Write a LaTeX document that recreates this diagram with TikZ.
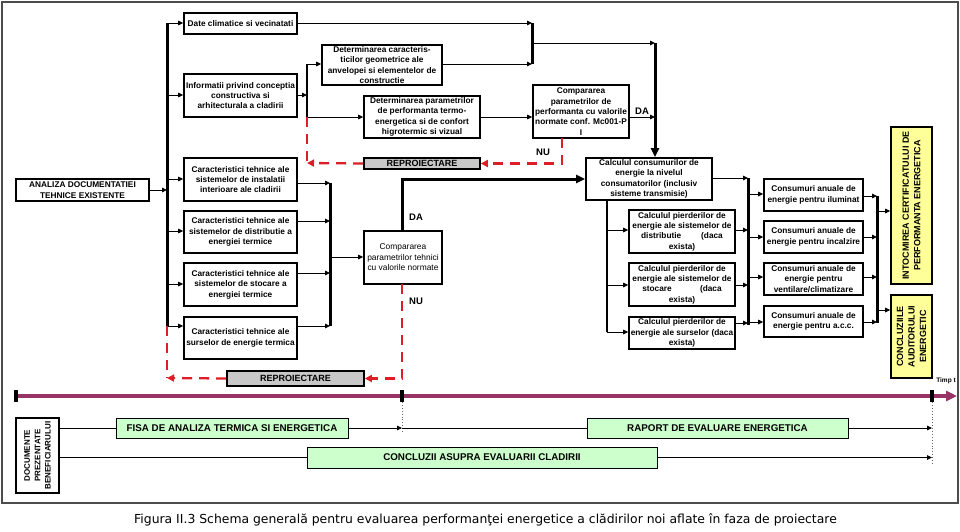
\documentclass[tikz,border=0pt]{standalone}
\usepackage{fontspec}
\setmainfont{Liberation Sans}
\newfontfamily\capfont{DejaVu Sans}
\usetikzlibrary{arrows.meta}
\definecolor{redd}{RGB}{221,30,38}
\definecolor{tlc}{RGB}{153,51,102}
\definecolor{gfill}{RGB}{204,255,204}
\definecolor{yfill}{RGB}{255,255,153}
\definecolor{rgray}{RGB}{200,200,200}
\begin{document}
\begin{tikzpicture}[x=1pt,y=-1pt,
  box/.style={draw, line width=1.6pt, align=center, inner sep=0pt, fill=white,
    font=\bfseries\fontsize{8.3}{10.4}\selectfont},
  rbox/.style={box, font=\fontsize{8.4}{10.4}\selectfont},
  repbox/.style={draw, line width=1.6pt, fill=rgray, inner sep=0pt,
    font=\bfseries\fontsize{9}{10}\selectfont},
  ybox/.style={draw, line width=1.6pt, fill=yfill, inner sep=0pt},
  gbox/.style={draw, line width=0.9pt, fill=gfill, inner sep=0pt,
    font=\bfseries\fontsize{9.8}{11}\selectfont},
  vtext/.style={rotate=90, align=center, font=\bfseries\fontsize{9}{11.4}\selectfont},
  arr/.style={line width=0.9pt, -{Triangle[length=5pt,width=4.5pt]}},
  bus/.style={line width=3pt},
  mbus/.style={line width=1.8pt},
  bigarr/.style={line width=3pt, -{Triangle[length=9pt,width=8pt]}},
  rdash/.style={draw=redd, line width=2.3pt, dash pattern=on 10pt off 7pt},
  rarr/.style={rdash, -{Triangle[length=7pt,width=7pt]}},
  lbl/.style={font=\bfseries\fontsize{9.5}{10}\selectfont, inner sep=0pt},
]
\useasboundingbox (0,0) rectangle (960,531);
\fill[white] (0,0) rectangle (960,531);
\draw[line width=1.2pt, black!70] (2,2) rectangle (958,503);

% ---- nodes ----
\node[box, minimum width=133, minimum height=22] (ana) at (82.5,190) {ANALIZA DOCUMENTATIEI\\TEHNICE EXISTENTE};
\node[box, minimum width=113, minimum height=21] (s1) at (240.5,23.5) {Date climatice si vecinatati};
\node[box, minimum width=113, minimum height=43] (s2) at (240.5,95.5) {Informatii privind conceptia\\constructiva si\\arhitecturala a cladirii};
\node[box, minimum width=113, minimum height=43] (s3) at (240.5,179.5) {Caracteristici tehnice ale\\sistemelor de instalatii\\interioare ale cladirii};
\node[box, minimum width=113, minimum height=42] (s4) at (240.5,232) {Caracteristici tehnice ale\\sistemelor de distributie a\\energiei termice};
\node[box, minimum width=113, minimum height=43] (s5) at (240.5,284.5) {Caracteristici tehnice ale\\sistemelor de stocare a\\energiei termice};
\node[box, minimum width=113, minimum height=42] (s6) at (240.5,338) {Caracteristici tehnice ale\\surselor de energie termica};

\node[box, minimum width=120, minimum height=40] (dg) at (382,65) {Determinarea caracteris-\\ticilor geometrice ale\\anvelopei si elementelor de\\constructie};
\node[box, minimum width=116, minimum height=42] (dp) at (422,117) {Determinarea parametrilor\\de performanta termo-\\energetica si de confort\\higrotermic si vizual};
\node[box, minimum width=96, minimum height=53] (cmp1) at (581,111.5) {Compararea\\parametrilor de\\performanta cu valorile\\normate conf. Mc001-P\\I};
\node[repbox, minimum width=116, minimum height=11] (rep1) at (422,163.5) {REPROIECTARE};
\node[rbox, minimum width=78, minimum height=53] (cmp2) at (403,257.5) {Compararea\\parametrilor tehnici\\cu valorile normate};
\node[repbox, minimum width=137, minimum height=15] (rep2) at (295.5,378.5) {REPROIECTARE};

\node[box, minimum width=126, minimum height=42] (calc) at (649,179) {Calculul consumurilor de\\energie la nivelul\\consumatorilor (inclusiv\\sisteme transmisie)};
\node[box, minimum width=106, minimum height=43] (p1) at (682,231.5) {Calculul pierderilor de\\energie ale sistemelor de\\distributie\hspace{2.4em}(daca\\exista)};
\node[box, minimum width=106, minimum height=43] (p2) at (682,284.5) {Calculul pierderilor de\\energie ale sistemelor de\\stocare\hspace{3.4em}(daca\\exista)};
\node[box, minimum width=106, minimum height=32] (p3) at (682,333) {Calculul pierderilor de\\energie ale surselor (daca\\exista)};

\node[box, minimum width=99, minimum height=32] (c1) at (813.5,195) {Consumuri anuale de\\energie pentru iluminat};
\node[box, minimum width=99, minimum height=32] (c2) at (813.5,237) {Consumuri anuale de\\energie pentru incalzire};
\node[box, minimum width=99, minimum height=32] (c3) at (813.5,279) {Consumuri anuale de\\energie pentru\\ventilare/climatizare};
\node[box, minimum width=99, minimum height=31] (c4) at (813.5,321.5) {Consumuri anuale de\\energie pentru a.c.c.};

\node[ybox, minimum width=41, minimum height=157] (cert) at (911.5,205.5) {};
\node[vtext] (certt) at (cert.center) {INTOCMIREA CERTIFICATULUI DE\\PERFORMANTA ENERGETICA};
\node[ybox, minimum width=41, minimum height=83] (concl) at (911.5,336.5) {};
\node[vtext] (conclt) at (concl.center) {CONCLUZIILE\\AUDITORULUI\\ENERGETIC};
\node[font=\bfseries\fontsize{6.5}{7}\selectfont, inner sep=0pt] (timp) at (946,381) {Timp t};

% ---- left bus ----
\coordinate (b1t) at (167,23);
\coordinate (b1b) at (167,326);
\coordinate (b1r) at (167,378);
\draw[arr] (ana.east) -- (ana.east -| b1t);
\draw[bus] (b1t) -- (b1b);
\foreach \n/\y in {s1/23,s2/95,s3/179,s4/231,s5/284,s6/326}
  \draw[arr] (167,\y) -- (\n.west |- 0,\y);
\draw[rdash] (b1b) -- (b1r);
\draw[rarr] (rep2.west) -- (b1r);

% ---- top branch ----
\coordinate (b2t) at (532,23);
\coordinate (b2b) at (532,64);
\draw[arr] (s1.east |- b2t) -- (b2t);
\draw[arr] (dg.east |- b2b) -- (b2b);
\draw[bus] (b2t) -- (b2b);
\coordinate (b3t) at (655,43);
\draw[arr] (532,43) -- (b3t);
\draw[bigarr] (b3t) -- (b3t |- calc.north);
\draw[arr] (cmp1.east |- 0,117) -- (655,117);
\node[lbl] (da1) at (642,111) {DA};

\coordinate (b4t) at (307,64);
\coordinate (b4b) at (307,117);
\coordinate (b4r) at (307,163);
\draw[arr] (s2.east |- 0,95) -- (307,95);
\draw[mbus] (b4t) -- (b4b);
\draw[arr] (b4t) -- (b4t -| dg.west);
\draw[arr] (b4b) -- (b4b -| dp.west);
\draw[arr] (dp.east) -- (dp.east -| cmp1.west);
\draw[rdash] (b4b) -- (b4r);
\draw[rarr] (rep1.west) -- (b4r);
\draw[rarr] (562,138) -- (562,163.5) -- (rep1.east);
\node[lbl] (nu1) at (543,152) {NU};

% ---- middle bus ----
\coordinate (b5t) at (330,183);
\coordinate (b5b) at (330,326);
\foreach \n/\y in {s3/183,s4/221,s5/273,s6/326}
  \draw[arr] (\n.east |- 0,\y) -- (330,\y);
\draw[bus] (b5t) -- (b5b);
\draw[arr] (330,257) -- (cmp2.west |- 0,257);
\draw[bigarr] (402,231) -- (402,179) -- (calc.west);
\node[lbl] (da2) at (416,217) {DA};
\draw[rarr] (402,284) -- (402,378.5) -- (rep2.east);
\node[lbl] (nu2) at (416,301) {NU};

% ---- right part ----
\coordinate (b6t) at (607,200);
\coordinate (b6b) at (607,332);
\draw[mbus] (b6t) -- (b6b);
\draw[arr] (607,230) -- (p1.west |- 0,230);
\draw[arr] (607,285) -- (p2.west |- 0,285);
\draw[arr] (b6b) -- (b6b -| p3.west);

\coordinate (b7t) at (748,178);
\coordinate (b7b) at (748,325);
\draw[arr] (calc.east |- b7t) -- (b7t);
\draw[arr] (p1.east |- 0,230) -- (748,230);
\draw[arr] (p2.east |- 0,285) -- (748,285);
\draw[arr] (p3.east |- 0,323) -- (748,323);
\draw[bus] (b7t) -- (b7b);
\foreach \n/\y in {c1/194,c2/237,c3/277,c4/322}
  \draw[arr] (748,\y) -- (\n.west |- 0,\y);

\coordinate (b8t) at (877,196);
\coordinate (b8b) at (877,323);
\foreach \n/\y in {c1/196,c2/237,c3/277,c4/322}
  \draw[arr] (\n.east |- 0,\y) -- (877,\y);
\draw[bus] (b8t) -- (b8b);
\draw[arr] (877,211) -- (cert.west |- 0,211);
\draw[arr] (877,310) -- (concl.west |- 0,310);

% ---- timeline ----
\coordinate (tl0) at (16,396);
\coordinate (tl1) at (957,396);
\draw[line width=3.8pt, tlc, -{Triangle[length=11pt,width=10pt]}] (tl0) -- (tl1);
\foreach \x in {16,402,932}
  \fill[black] (\x-1.8,390) rectangle (\x+1.8,402);
\draw[black!60, line width=0.9pt, dotted] (402,402) -- (402,433);
\draw[black!60, line width=0.9pt, dotted] (932,402) -- (932,463);

% ---- bottom ----
\node[draw, line width=1.6pt, fill=white, minimum width=43, minimum height=75, inner sep=0pt] (doc) at (37.5,455.5) {};
\node[rotate=90, align=center, font=\bfseries\fontsize{8}{10.4}\selectfont] (doct) at (doc.center) {DOCUMENTE\\PREZENTATE\\BENEFICIARULUI};
\node[gbox, minimum width=232, minimum height=20] (fisa) at (232,428) {FISA DE ANALIZA TERMICA SI ENERGETICA};
\node[gbox, minimum width=261, minimum height=20] (rap) at (717.5,428) {RAPORT DE EVALUARE ENERGETICA};
\node[gbox, minimum width=350, minimum height=21] (conc2) at (482,457.5) {CONCLUZII ASUPRA EVALUARII CLADIRII};
\coordinate (d1) at (402,428);
\coordinate (e1) at (932,428);
\coordinate (e2) at (932,457.5);
\draw[line width=0.9pt] (doc.east |- fisa.west) -- (fisa.west);
\draw[arr] (fisa.east) -- (d1);
\draw[line width=0.9pt] (d1) -- (rap.west);
\draw[arr] (rap.east) -- (e1);
\draw[line width=0.9pt] (doc.east |- conc2.west) -- (conc2.west);
\draw[arr] (conc2.east) -- (e2);

% ---- caption ----
\node[font=\capfont\fontsize{12.4}{14}\selectfont, inner sep=0pt] (cap) at (485.5,520) {Figura II.3 Schema generală pentru evaluarea performanţei energetice a clădirilor noi aflate în faza de proiectare};
\end{tikzpicture}
\end{document}
